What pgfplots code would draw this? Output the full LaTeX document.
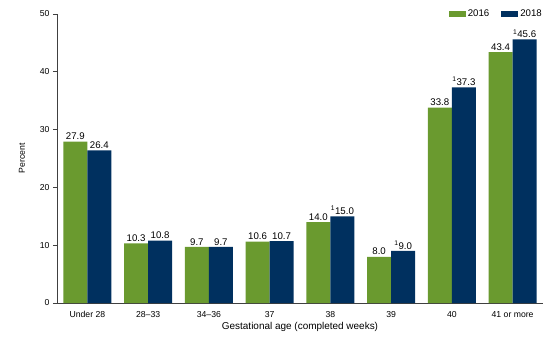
\documentclass[border=0pt]{standalone}
\usepackage{pgfplots}
\pgfplotsset{compat=1.18}
\usepackage{fontspec}
\setmainfont{Liberation Sans}
\definecolor{cgreen}{HTML}{6A9A2F}
\definecolor{cnavy}{HTML}{00305F}
\definecolor{caxis}{HTML}{404040}
\pgfplotsset{ybar legend/.style={legend image code/.code={\path (-10bp,0bp); \fill[##1] (0bp,-3bp) rectangle (17bp,3bp);}}}
\begin{document}
\begin{tikzpicture}[x=1bp,y=1bp]
\path[use as bounding box] (-57bp,-47bp) rectangle (503bp,303bp);
\begin{axis}[
  at={(0,0)}, anchor=south west,
  scale only axis,
  width=486bp, height=289bp,
  xmin=-0.5, xmax=7.5,
  ymin=0, ymax=50,
  ytick={0,10,...,50},
  xtick={0,...,7},
  xticklabels={Under 28,28--33,34--36,37,38,39,40,41 or more},
  /pgf/number format/assume math mode=true,
  x tick label style={yshift=-1bp},
  major x tick style={draw=none},
  axis x line*=bottom, axis y line*=left,
  axis line style={caxis, line width=0.9bp, -},
  y tick style={caxis, line width=0.9bp},
  tick align=outside,
  major tick length=4bp,
  ybar, bar width=24bp,
  tick label style={font=\fontsize{8.7}{10}\selectfont},
  xlabel={Gestational age (completed weeks)},
  ylabel={Percent},
  xlabel style={font=\fontsize{10}{11}\selectfont, yshift=2bp},
  ylabel style={font=\fontsize{8.7}{10}\selectfont, yshift=8bp},
  point meta=explicit symbolic,
  nodes near coords,
  every node near coord/.append style={font=\fontsize{9.7}{11}\selectfont, inner sep=1.5bp},
  legend style={draw=none, fill=none, at={(1.0,1.0)}, anchor=east, xshift=2bp, legend columns=2,
    inner sep=1bp,
    font=\fontsize{9.7}{11}\selectfont},
  clip=false,
]
\addplot[fill=cgreen, draw=none, bar shift=-12bp] coordinates {
 (0,27.9) [27.9] (1,10.3) [10.3] (2,9.7) [9.7] (3,10.6) [10.6]
 (4,14.0) [14.0] (5,8.0) [8.0] (6,33.8) [33.8] (7,43.4) [43.4]};
\addplot[fill=cnavy, draw=none, bar shift=12bp] coordinates {
 (0,26.4) [26.4] (1,10.8) [10.8] (2,9.7) [9.7] (3,10.7) [10.7]
 (4,15.0) [\textsuperscript{1}15.0] (5,9.0) [\textsuperscript{1}9.0] (6,37.3) [\textsuperscript{1}37.3] (7,45.6) [\textsuperscript{1}45.6]};
\legend{2016,2018}
\end{axis}
\end{tikzpicture}
\end{document}
